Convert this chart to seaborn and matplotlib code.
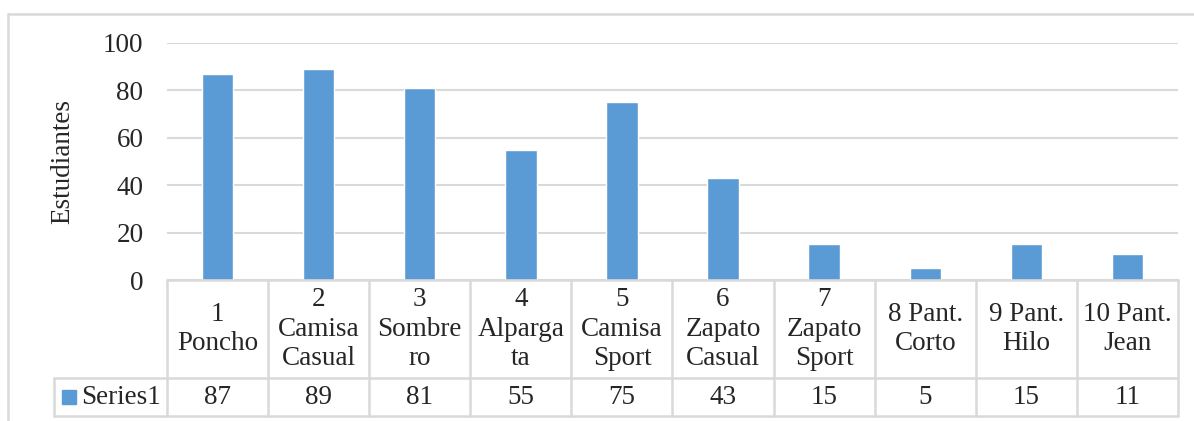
import matplotlib
matplotlib.use("Agg")
import matplotlib.pyplot as plt
from matplotlib.lines import Line2D
from matplotlib.patches import Rectangle
import pandas as pd
import seaborn as sns

# ── DATA ────────────────────────────────────────────────────
categories = ["1\nPoncho", "2\nCamisa\nCasual", "3\nSombre\nro", "4\nAlparga\nta",
              "5\nCamisa\nSport", "6\nZapato\nCasual", "7\nZapato\nSport",
              "8 Pant.\nCorto", "9 Pant.\nHilo", "10 Pant.\nJean"]
values = [87, 89, 81, 55, 75, 43, 15, 5, 15, 11]
series_name = "Series1"
y_ticks = [0, 20, 40, 60, 80, 100]

BAR = "#5B9BD5"
GRID = "#D9D9D9"
FS = 19.5

sns.set_theme(style="white")
plt.rcParams["font.family"] = ["Liberation Serif", "DejaVu Serif"]

W, H = 1194, 421
fig = plt.figure(figsize=(W / 100, H / 100), dpi=100)

# pixel helpers
def fx(px):
    return px / W

def fy(py):
    return 1 - py / H

left, right, top, bottom = 167, 1178, 43, 280
ax = fig.add_axes([fx(left), fy(bottom), fx(right - left), fy(top) - fy(bottom)])

df = pd.DataFrame({"cat": categories, "val": values})
sns.barplot(data=df, x="cat", y="val", color=BAR, width=0.31, saturation=1, ax=ax)

ax.set_xlim(-0.5, len(categories) - 0.5)
ax.set_ylim(0, 100)
ax.set_yticks(y_ticks)
ax.set_yticklabels([str(t) for t in y_ticks], fontsize=FS)
ax.tick_params(axis="y", length=0, pad=17)
ax.set_xticks([])
ax.set_xlabel("")
ax.set_ylabel("Estudiantes", fontsize=FS, labelpad=20)
for s in ax.spines.values():
    s.set_visible(False)
ax.yaxis.grid(True, color=GRID, linewidth=1.5)
ax.set_axisbelow(True)

# ── DATA TABLE ──────────────────────────────────────────────
row1, row2 = 378, 416
legend_left = 54
lc = dict(color=GRID, linewidth=1.8, transform=fig.transFigure)
cell_w = (right - left) / len(categories)

fig.add_artist(Line2D([fx(left), fx(right)], [fy(bottom), fy(bottom)], **lc))
fig.add_artist(Line2D([fx(legend_left), fx(right)], [fy(row1), fy(row1)], **lc))
fig.add_artist(Line2D([fx(legend_left), fx(right)], [fy(row2), fy(row2)], **lc))
fig.add_artist(Line2D([fx(legend_left), fx(legend_left)], [fy(row1), fy(row2)], **lc))
for i in range(len(categories) + 1):
    x = left + i * cell_w
    fig.add_artist(Line2D([fx(x), fx(x)], [fy(bottom), fy(row2)], **lc))

for i, (cat, val) in enumerate(zip(categories, values)):
    cx = left + (i + 0.5) * cell_w
    fig.text(fx(cx), fy((bottom + row1) / 2), cat, ha="center", va="center",
             fontsize=FS, linespacing=1.22)
    fig.text(fx(cx), fy((row1 + row2) / 2 + 1), str(val), ha="center", va="center",
             fontsize=FS)

# legend key
fig.add_artist(Rectangle((fx(62), fy(404)), fx(14), fy(390) - fy(404),
                         transform=fig.transFigure, color=BAR))
fig.text(fx(81), fy((row1 + row2) / 2 + 1), series_name, ha="left", va="center", fontsize=FS)

# chart area border (left and top)
fig.add_artist(Line2D([fx(8), fx(8)], [fy(14), 0], **lc))
fig.add_artist(Line2D([fx(8), 1], [fy(14), fy(14)], **lc))

fig.savefig("out.png", dpi=100)
